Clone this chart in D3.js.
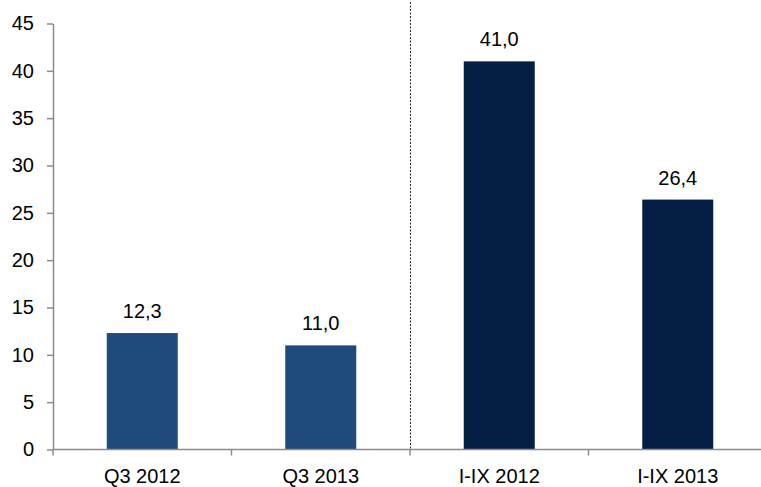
<!DOCTYPE html>
<html><head><meta charset="utf-8">
<script src="https://cdn.jsdelivr.net/npm/d3@7"></script>
<style>body{margin:0;background:#fff}svg{display:block}text{font-family:"Liberation Sans",Arial,sans-serif}</style>
</head><body><svg width="761" height="487"></svg>
<script>
const categories = ["Q3 2012","Q3 2013","I-IX 2012","I-IX 2013"];
const values = [12.3, 11.0, 41.0, 26.4];
const labels = ["12,3","11,0","41,0","26,4"];
const colors = ["#1f4a7c","#1f4a7c","#041e45","#041e45"];
const yTicks = [0,5,10,15,20,25,30,35,40,45];

const svg = d3.select("svg");
const y = d3.scaleLinear().domain([0,45]).range([449.5, 23.5]);
const band = d3.scaleBand().domain(categories).range([53, 767]);

// bars
svg.selectAll("rect.bar").data(values).enter().append("rect")
  .attr("x",(d,i)=>band(categories[i]) + band.bandwidth()/2 - 35.5)
  .attr("width",71)
  .attr("y",d=>y(d)).attr("height",d=>y(0)-y(d))
  .attr("fill",(d,i)=>colors[i]);

// value labels
svg.selectAll("text.val").data(values).enter().append("text")
  .attr("x",(d,i)=>band(categories[i]) + band.bandwidth()/2)
  .attr("y",d=>y(d)-15)
  .attr("text-anchor","middle").attr("font-size",20).attr("fill","#000")
  .text((d,i)=>labels[i]);

// divider
svg.append("line").attr("x1",band(categories[2])+0.5).attr("x2",band(categories[2])+0.5)
  .attr("y1",2).attr("y2",y(0)).attr("stroke","#222").attr("stroke-width",1).attr("stroke-dasharray","2,1.5");

// y axis
const gy = svg.append("g").attr("transform","translate(53,0)")
  .call(d3.axisLeft(y).tickValues(yTicks).tickSize(6).tickSizeOuter(0).tickPadding(13));
gy.select(".domain").attr("stroke","#8c8c8c").attr("stroke-width",1.5);
gy.selectAll(".tick line").attr("stroke","#8c8c8c").attr("stroke-width",1.5);
gy.selectAll("text").attr("font-size",20).attr("fill","#000").attr("font-family","Liberation Sans, Arial, sans-serif");

// x axis
svg.append("line").attr("x1",53).attr("x2",761).attr("y1",y(0)).attr("y2",y(0)).attr("stroke","#8c8c8c").attr("stroke-width",1.5);
const bounds = [0,1,2,3].map(i=>band(categories[i]));
svg.selectAll("line.xt").data(bounds).enter().append("line")
  .attr("x1",d=>d).attr("x2",d=>d).attr("y1",y(0)).attr("y2",y(0)+6)
  .attr("stroke","#8c8c8c").attr("stroke-width",1.5);
svg.selectAll("text.xl").data(categories).enter().append("text")
  .attr("x",d=>band(d)+band.bandwidth()/2).attr("y",483)
  .attr("text-anchor","middle").attr("font-size",20).attr("fill","#000").text(d=>d);
</script></body></html>
